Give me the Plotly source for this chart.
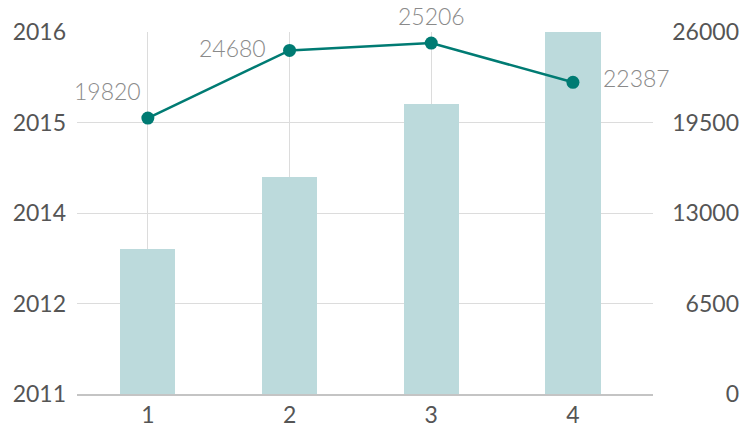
import plotly.graph_objects as go

categories = [1, 2, 3, 4]
bar_years = [2013, 2014, 2015, 2016]
line_values = [19820, 24680, 25206, 22387]

# label offsets (pixels) relative to each point
label_dx = [-40, -57, 0, 64]
label_dy = [27, 2, 27, 4]

BAR_COLOR = "#bcdadc"
LINE_COLOR = "#007b73"
GRID = "#dcdcdc"
FONT = "Lato"
TICK_FONT = dict(family=FONT, size=23, color="#555555")

fig = go.Figure()
fig.add_trace(go.Bar(
    x=categories, y=bar_years, width=0.39,
    marker=dict(color=BAR_COLOR, line=dict(width=0)),
    yaxis="y", showlegend=False, hoverinfo="skip",
))
fig.add_trace(go.Scatter(
    x=categories, y=line_values, yaxis="y2",
    mode="lines+markers",
    line=dict(color=LINE_COLOR, width=2.5),
    marker=dict(color=LINE_COLOR, size=13),
    showlegend=False, cliponaxis=False,
))

for x, v, dx, dy in zip(categories, line_values, label_dx, label_dy):
    fig.add_annotation(
        x=x, y=v, xref="x", yref="y2", text=str(v), showarrow=False,
        xanchor="center", yanchor="middle", xshift=dx, yshift=dy,
        font=dict(family=FONT, size=23, color="#8a8a8a", weight=300),
    )

plot_w = 750 - 77 - 5
fig.update_layout(
    width=750, height=424,
    margin=dict(l=77, r=5, t=32, b=30),
    paper_bgcolor="white", plot_bgcolor="white",
    font=dict(family=FONT, size=23, color="#555555"),
    bargap=0,
    xaxis=dict(
        domain=[0, 576 / plot_w],
        range=[0.5, 4.565],
        tickmode="array", tickvals=categories,
        showgrid=True, gridcolor=GRID, gridwidth=1,
        showline=True, linecolor="#c4c4c4", linewidth=1.5,
        zeroline=False, ticks="", automargin=False,
        tickfont=TICK_FONT,
    ),
    yaxis=dict(
        range=[2011, 2016],
        tickmode="linear", tick0=2011, dtick=1.25, tickformat="d",
        showgrid=True, gridcolor=GRID, gridwidth=1,
        showline=False, zeroline=False, ticks="", automargin=False,
        ticklabelstandoff=10,
        tickfont=TICK_FONT,
    ),
    yaxis2=dict(
        range=[0, 26000],
        tickmode="linear", tick0=0, dtick=6500, tickformat="d",
        overlaying="y", side="left", anchor="free", position=0.991,
        showgrid=False, showline=False, zeroline=False, ticks="", automargin=False,
        tickfont=TICK_FONT,
    ),
)

fig.write_html("out.html")
